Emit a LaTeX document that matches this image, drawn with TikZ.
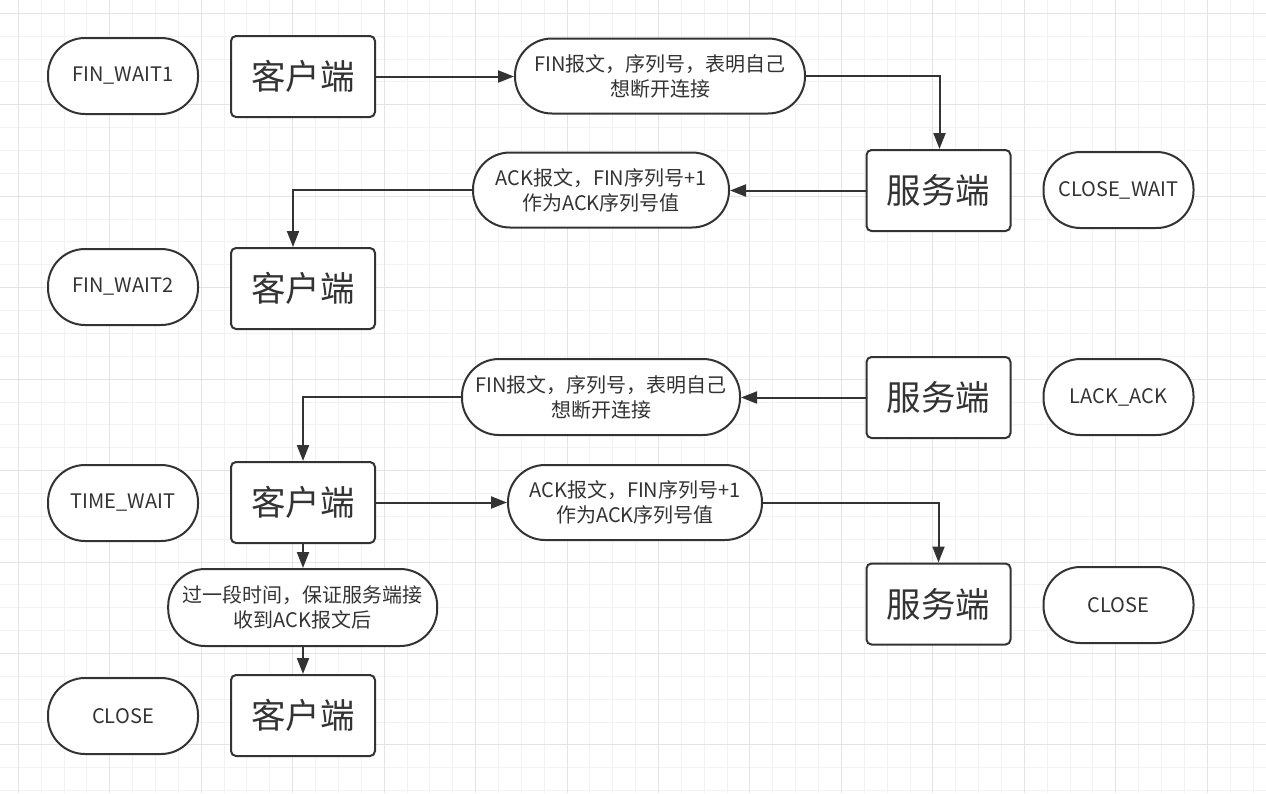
\documentclass[tikz,border=0pt]{standalone}
\usepackage{fontspec}
\setmainfont{Noto Sans CJK SC}
\usetikzlibrary{arrows.meta}
\definecolor{ink}{HTML}{333333}
\definecolor{gridminor}{HTML}{F2F2F2}
\definecolor{gridmajor}{HTML}{E4E4E4}
\begin{document}
\begin{tikzpicture}[x=1pt,y=-1pt,
  minorline/.style={draw=gridminor, line width=1pt},
  majorline/.style={draw=gridmajor, line width=1pt},
  statebox/.style={draw=ink, line width=2pt, rounded corners=37pt, fill=white, text=ink,
    minimum width=150pt, minimum height=76pt, inner sep=0pt,
    font=\fontsize{20}{25}\selectfont},
  msgbox/.style={statebox, align=center},
  hostbox/.style={draw=ink, line width=2pt, rounded corners=5pt, fill=white, text=ink,
    minimum width=144pt, minimum height=81pt, inner sep=0pt,
    font=\fontsize{34.5}{40}\selectfont},
  arr/.style={draw=ink, line width=2pt, -{Triangle[length=16pt,width=12pt]}}
]
\useasboundingbox (0,0) rectangle (1266,793);
\fill[white] (0,0) rectangle (1266,793);
% grid
\foreach \i in {0,...,54} {\draw[minorline] ({18.3+22.865*\i},0) -- ({18.3+22.865*\i},793);}
\foreach \i in {0,...,34} {\draw[minorline] (0,{13.3+22.865*\i}) -- (1266,{13.3+22.865*\i});}
\foreach \i in {0,...,13} {\draw[majorline] ({18.3+91.46*\i},0) -- ({18.3+91.46*\i},793);}
\foreach \i in {0,...,8} {\draw[majorline] (0,{13.3+91.46*\i}) -- (1266,{13.3+91.46*\i});}

% nodes
\node[statebox] (s1) at (123,76) {FIN\_WAIT1};
\node[hostbox] (c1) at (303,76.5) {客户端};
\node[msgbox, minimum width=290pt, minimum height=75pt] (m1) at (660,76) {FIN报文，序列号，表明自己\\想断开连接};

\node[hostbox] (v1) at (938.5,190.5) {服务端};
\node[statebox] (s2) at (1118.5,190) {CLOSE\_WAIT};
\node[msgbox, minimum width=256pt, minimum height=75pt] (m2) at (601,190) {ACK报文，FIN序列号+1\\作为ACK序列号值};

\node[hostbox] (c2) at (303,288.5) {客户端};
\node[statebox] (s3) at (123,287) {FIN\_WAIT2};

\node[hostbox] (v2) at (938.5,397.5) {服务端};
\node[statebox] (s4) at (1118.5,397) {LACK\_ACK};
\node[msgbox, minimum width=278pt] (m3) at (601,397) {FIN报文，序列号，表明自己\\想断开连接};

\node[hostbox] (c3) at (303,502.5) {客户端};
\node[statebox] (s5) at (123,503) {TIME\_WAIT};
\node[msgbox, minimum width=254pt, minimum height=75pt] (m4) at (635,502.5) {ACK报文，FIN序列号+1\\作为ACK序列号值};

\node[hostbox] (v3) at (938.5,604) {服务端};
\node[statebox] (s6) at (1118.5,605) {CLOSE};
\node[msgbox, minimum width=269pt, minimum height=77pt] (m5) at (302.7,607.5) {过一段时间，保证服务端接\\收到ACK报文后};

\node[hostbox] (c4) at (303,715.5) {客户端};
\node[statebox] (s7) at (123,716) {CLOSE};

% connectors
\draw[arr] (c1.east) -- (c1.east -| m1.west);
\draw[arr] (m1.east) -| ([xshift=1pt]v1.north);
\draw[arr] (v1.west) -- (v1.west -| m2.east);
\draw[arr] (m2.west) -| ([xshift=-10pt]c2.north);
\draw[arr] (v2.west) -- (v2.west -| m3.east);
\draw[arr] (m3.west) -| (c3.north);
\draw[arr] (c3.east) -- (c3.east -| m4.west);
\draw[arr] (m4.east) -| (v3.north);
\draw[arr] (c3.south) -- (m5.north -| c3.south);
\draw[arr] (m5.south -| c4.north) -- (c4.north);
\end{tikzpicture}
\end{document}
